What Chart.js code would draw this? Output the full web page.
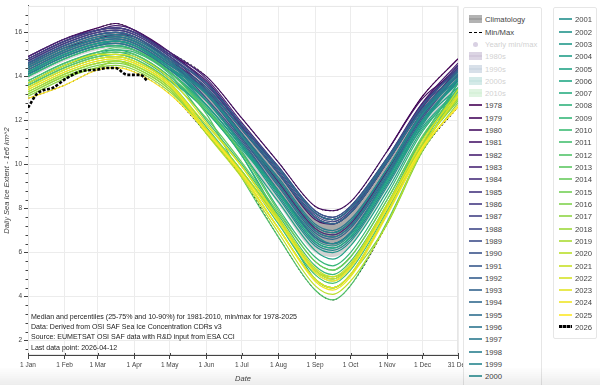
<!DOCTYPE html>
<html>
<head>
<meta charset="utf-8">
<script src="https://cdn.jsdelivr.net/npm/chart.js@4.4.1/dist/chart.umd.min.js"></script>
<style>
html,body{margin:0;padding:0;background:#fff;}
body{width:600px;height:385px;position:relative;overflow:hidden;font-family:Helvetica,"Liberation Sans",Arial,sans-serif;}
#c{position:absolute;left:0;top:0;}
.note{position:absolute;left:31px;top:312px;font-size:7.05px;line-height:10.2px;color:#222;white-space:nowrap;}
.lg{position:absolute;top:7px;border:1px solid #e6e6e6;background:#fff;border-radius:2px;box-sizing:border-box;}
.row{position:absolute;left:0;height:12px;display:flex;align-items:center;font-size:7.7px;color:#444;white-space:nowrap;}
.gl{display:inline-block;width:13px;height:8px;position:relative;margin-right:3px;}
.gl s{position:absolute;left:0;right:0;top:3px;height:2px;text-decoration:none;opacity:.8;}
.muted{opacity:0.25;}
.shade{position:absolute;left:0;right:0;bottom:0;height:18px;background:linear-gradient(rgba(0,0,0,0),rgba(0,0,0,0.07));pointer-events:none;}
</style>
</head>
<body>
<canvas id="c" width="600" height="385"></canvas>
<div class="note">
Median and percentiles (25-75% and 10-90%) for 1981-2010, min/max for 1978-2025<br>
Data: Derived from OSI SAF Sea Ice Concentration CDRs v3<br>
Source: EUMETSAT OSI SAF data with R&amp;D input from ESA CCI<br>
Last data point: 2026-04-12
</div>
<div class="lg" id="lg1" style="left:463px;width:79px;height:400px"></div>
<div class="lg" id="lg2" style="left:553px;width:44px;height:332px"></div>
<div class="shade"></div>
<script>
// day of year of every sample, and the axis ticks
const days = [0, 31, 59, 74, 90, 120, 151, 181, 212, 243, 258, 273, 304, 334, 364];
const tickDays = [0, 31, 59, 90, 120, 151, 181, 212, 243, 273, 304, 334, 364];
const tickLabels = ['1 Jan','1 Feb','1 Mar','1 Apr','1 May','1 Jun','1 Jul','1 Aug','1 Sep','1 Oct','1 Nov','1 Dec','31 Dec'];

// climatology 1981-2010
const clim10 = [13.9, 14.7, 15.2, 15.3, 15.1, 14.1, 12.5, 10.5, 8.2, 6.0, 5.8, 6.3, 8.9, 11.6, 13.6];
const clim25 = [14.1, 14.9, 15.4, 15.5, 15.3, 14.3, 12.8, 10.9, 8.7, 6.6, 6.3, 6.8, 9.3, 12.0, 13.8];
const clim50 = [14.4, 15.2, 15.7, 15.8, 15.6, 14.6, 13.2, 11.3, 9.2, 7.1, 6.8, 7.3, 9.7, 12.3, 14.1];
const clim75 = [14.6, 15.4, 15.9, 16.0, 15.8, 14.8, 13.5, 11.6, 9.6, 7.5, 7.3, 7.8, 10.1, 12.6, 14.3];
const clim90 = [14.8, 15.6, 16.1, 16.2, 16.0, 15.0, 13.7, 11.8, 9.8, 7.8, 7.5, 8.0, 10.3, 12.7, 14.5];

// daily extent per year (1e6 km^2)
const e1978 = [null,null,null,null,null,null,null,null,null,null,null,null,10.6,13.1,14.8];
const e1979 = [14.9,15.7,16.2,16.4,16.1,15.1,13.7,11.7,9.6,7.6,7.3,7.8,10.1,12.7,14.5];
const e1980 = [14.8,15.6,16.1,16.2,16.0,15.0,14.0,12.1,10.1,8.1,7.9,8.3,10.6,13.0,14.2];
const e1981 = [14.5,15.3,15.7,15.9,15.8,14.7,13.5,11.6,9.6,7.5,7.3,7.8,10.1,12.6,14.5];
const e1982 = [14.8,15.6,16.1,16.3,16.1,15.0,13.8,11.8,9.8,7.8,7.5,8.0,10.2,12.8,14.6];
const e1983 = [14.9,15.7,16.1,16.2,16.0,15.1,13.9,11.9,9.9,7.9,7.6,8.1,10.3,12.8,14.3];
const e1984 = [14.6,15.4,15.9,16.0,15.8,14.8,13.3,11.4,9.2,7.1,6.8,7.3,9.7,12.3,14.4];
const e1985 = [14.7,15.5,16.0,16.1,15.9,14.9,13.4,11.4,9.3,7.2,6.9,7.4,9.8,12.4,14.3];
const e1986 = [14.6,15.4,15.9,16.0,15.8,14.8,13.7,11.8,9.8,7.8,7.5,8.0,10.2,12.7,14.4];
const e1987 = [14.7,15.5,16.0,16.1,15.9,14.9,13.6,11.7,9.6,7.6,7.3,7.8,10.1,12.6,14.5];
const e1988 = [14.8,15.6,16.1,16.2,16.0,15.0,13.7,11.8,9.7,7.7,7.4,7.9,10.2,12.7,14.0];
const e1989 = [14.3,15.1,15.6,15.7,15.5,14.5,13.4,11.6,9.6,7.6,7.3,7.8,10.1,12.5,14.2];
const e1990 = [14.5,15.3,15.8,15.9,15.7,14.7,13.0,11.1,8.8,6.7,6.4,6.9,9.4,12.1,14.1];
const e1991 = [14.4,15.2,15.7,15.8,15.6,14.6,13.2,11.2,9.1,7.0,6.7,7.2,9.6,12.2,14.3];
const e1992 = [14.6,15.4,15.9,16.0,15.8,14.8,13.7,11.8,9.9,7.9,7.6,8.1,10.3,12.7,14.3];
const e1993 = [14.6,15.4,15.9,16.0,15.8,14.8,13.2,11.2,9.0,6.9,6.6,7.1,9.5,12.2,14.1];
const e1994 = [14.4,15.2,15.7,15.8,15.6,14.6,13.5,11.6,9.6,7.6,7.3,7.8,10.1,12.5,13.8];
const e1995 = [14.1,14.9,15.4,15.5,15.3,14.3,12.9,11.0,8.8,6.7,6.4,6.9,9.4,12.0,13.8];
const e1996 = [14.1,14.9,15.4,15.5,15.3,14.3,13.4,11.6,9.8,7.8,7.5,8.0,10.2,12.5,14.0];
const e1997 = [14.3,15.1,15.6,15.7,15.5,14.5,13.3,11.4,9.4,7.3,7.0,7.5,9.8,12.4,14.2];
const e1998 = [14.5,15.3,15.8,15.9,15.7,14.7,13.2,11.3,9.1,7.0,6.7,7.2,9.6,12.3,14.1];
const e1999 = [14.4,15.2,15.7,15.8,15.6,14.6,12.9,10.9,8.6,6.4,6.1,6.6,9.1,11.9,13.8];
const e2000 = [14.1,14.9,15.4,15.6,15.4,14.3,12.9,10.9,8.8,6.8,6.4,6.9,9.4,12.0,13.9];
const e2001 = [14.2,15.0,15.5,15.6,15.4,14.4,13.2,11.3,9.3,7.2,6.9,7.4,9.8,12.3,13.9];
const e2002 = [14.2,15.0,15.5,15.6,15.4,14.4,12.7,10.8,8.5,6.3,6.0,6.5,9.0,11.8,13.9];
const e2003 = [14.2,15.0,15.5,15.6,15.4,14.4,12.9,10.9,8.8,6.6,6.3,6.8,9.3,12.0,13.7];
const e2004 = [14.0,14.8,15.3,15.4,15.2,14.2,12.7,10.8,8.7,6.5,6.2,6.7,9.2,11.9,13.5];
const e2005 = [13.8,14.6,15.1,15.2,15.0,14.0,12.4,10.5,8.3,6.1,5.7,6.3,8.8,11.6,13.3];
const e2006 = [13.6,14.4,14.9,15.0,14.8,13.8,12.5,10.7,8.7,6.5,6.2,6.7,9.2,11.7,13.4];
const e2007 = [13.7,14.5,15.0,15.1,14.9,13.9,12.4,10.4,7.6,4.8,4.4,5.0,7.8,10.9,13.7];
const e2008 = [14.0,14.8,15.3,15.4,15.2,14.2,12.5,10.4,7.5,5.2,4.8,5.4,8.1,11.2,13.7];
const e2009 = [14.0,14.8,15.3,15.4,15.2,14.2,12.6,10.6,8.0,5.8,5.4,6.0,8.6,11.5,13.4];
const e2010 = [13.7,14.5,15.0,15.2,15.1,14.1,12.0,10.0,7.7,5.4,5.0,5.6,8.2,11.2,13.2];
const e2011 = [13.5,14.3,14.8,14.9,14.7,13.7,11.7,9.7,7.3,5.0,4.6,5.2,7.9,10.9,13.5];
const e2012 = [13.8,14.6,15.1,15.3,15.2,14.2,12.3,9.4,6.7,4.3,3.85,4.5,7.4,10.7,13.4];
const e2013 = [13.7,14.5,15.0,15.1,15.0,14.0,12.5,10.5,7.9,5.6,5.2,5.8,8.4,11.3,13.3];
const e2014 = [13.6,14.4,14.9,15.0,14.8,13.8,12.1,10.1,7.8,5.6,5.2,5.8,8.4,11.2,13.0];
const e2015 = [13.3,14.1,14.6,14.7,14.5,13.5,11.6,9.7,7.4,5.1,4.7,5.3,8.0,10.9,12.9];
const e2016 = [13.2,14.0,14.5,14.6,14.4,13.4,11.4,9.5,7.1,4.8,4.4,5.0,7.3,10.6,12.8];
const e2017 = [13.1,13.9,14.4,14.5,14.3,13.3,11.6,9.7,7.5,5.2,4.8,5.4,8.1,10.9,12.9];
const e2018 = [13.2,14.0,14.4,14.7,14.4,13.4,11.6,9.7,7.5,5.2,4.9,5.4,8.1,10.9,13.0];
const e2019 = [13.3,14.1,14.6,14.7,14.5,13.5,11.5,9.5,7.1,4.8,4.4,5.0,7.8,10.8,13.2];
const e2020 = [13.5,14.3,14.8,14.9,14.7,13.7,11.4,9.4,6.9,4.5,4.1,4.7,7.3,10.7,13.1];
const e2021 = [13.4,14.2,14.7,14.8,14.6,13.6,11.8,9.9,7.6,5.3,4.9,5.5,8.2,11.0,13.4];
const e2022 = [13.7,14.5,15.0,15.0,14.9,13.9,11.9,9.9,7.5,5.2,4.8,5.4,8.1,11.1,13.2];
const e2023 = [13.5,14.3,14.8,14.9,14.7,13.7,11.6,9.6,7.1,4.8,4.4,5.0,7.8,10.8,13.1];
const e2024 = [13.4,14.2,14.7,14.8,14.6,13.6,11.5,9.5,7.1,4.7,4.3,4.9,7.7,10.7,12.7];
const e2025 = [13.0,13.6,14.3,14.4,14.2,13.2,11.5,9.6,7.4,5.1,4.7,5.3,8.0,10.8,12.6];

// current year, up to the last data point
const days2026 = [0, 7, 12, 21, 33, 46, 58, 67, 74, 84, 95, 101];
const e2026 = [12.58, 13.17, 13.35, 13.48, 13.93, 14.25, 14.3, 14.38, 14.38, 14.07, 14.07, 13.8];

const yearSeries = [e1978,e1979,e1980,e1981,e1982,e1983,e1984,e1985,e1986,e1987,e1988,e1989,
  e1990,e1991,e1992,e1993,e1994,e1995,e1996,e1997,e1998,e1999,e2000,e2001,e2002,e2003,e2004,
  e2005,e2006,e2007,e2008,e2009,e2010,e2011,e2012,e2013,e2014,e2015,e2016,e2017,e2018,e2019,
  e2020,e2021,e2022,e2023,e2024,e2025];
const firstYear = 1978;

const viridis = ['#440154','#482475','#414487','#355f8d','#2a788e','#21918c','#22a884','#44bf70','#7ad151','#bddf26','#fde725'];
const hex = h => [1,3,5].map(i => parseInt(h.slice(i,i+2),16));
function vcol(t, a=1){
  const p = t*10, i = Math.min(9, Math.floor(p)), f = p - i;
  const c0 = hex(viridis[i]), c1 = hex(viridis[i+1]);
  const c = c0.map((v,k)=> Math.round(v + (c1[k]-v)*f));
  return `rgba(${c[0]},${c[1]},${c[2]},${a})`;
}
const pts = (xs, ys) => xs.map((d,i)=> ({x:d, y:ys[i]}));

const nYears = yearSeries.length;
const datasets = [];
// climatology bands sit under the yearly lines
datasets.push({ label:'p10', data: pts(days, clim10), borderWidth:0, borderColor:'rgba(0,0,0,0)', order: 6000 });
datasets.push({ label:'p90', data: pts(days, clim90), borderWidth:0, borderColor:'rgba(0,0,0,0)', fill:'-1', backgroundColor:'rgba(205,205,205,0.9)', order: 6000 });
datasets.push({ label:'p25', data: pts(days, clim25), borderWidth:0, borderColor:'rgba(0,0,0,0)', order: 5900 });
datasets.push({ label:'p75', data: pts(days, clim75), borderWidth:0, borderColor:'rgba(0,0,0,0)', fill:'-1', backgroundColor:'rgba(160,160,160,0.8)', order: 5900 });
datasets.push({ label:'Median', data: pts(days, clim50), borderColor:'rgba(120,120,120,0.9)', borderWidth:1.5, order: 5800 });
const minEnv = days.map((d,k)=> Math.min(...yearSeries.map(s=> s[k]).filter(v=> v!=null)));
const maxEnv = days.map((d,k)=> Math.max(...yearSeries.map(s=> s[k]).filter(v=> v!=null)));
datasets.push({ label:'Min', data: pts(days, minEnv), borderColor:'#000', borderWidth:1, borderDash:[2,2], order: 5000 });
datasets.push({ label:'Max', data: pts(days, maxEnv), borderColor:'#000', borderWidth:1, borderDash:[2,2], order: 5000 });
yearSeries.forEach((vals,i)=>{
  datasets.push({ label: String(firstYear+i), data: pts(days, vals), borderColor: vcol(i/(nYears-1)),
    borderWidth: 1.2, order: 3000 - i, spanGaps: false });
});
datasets.push({ label:'2026', data: pts(days2026, e2026), borderColor:'#000', borderWidth:2.6, borderDash:[3,1.6], order: 0 });

const extras = {
  id:'extras',
  beforeDatasetsDraw(c){
    const {ctx, chartArea:a} = c;
    ctx.save();
    ctx.strokeStyle = '#e6e6e6'; ctx.lineWidth = 1;
    ctx.strokeRect(a.left+0.5, a.top+0.5, a.right-a.left-1, a.bottom-a.top-1);
    ctx.restore();
  },
  afterDraw(c){
    const {ctx, chartArea:a, scales:{x, y}} = c;
    ctx.save();
    ctx.strokeStyle = '#444'; ctx.lineWidth = 1;
    ctx.beginPath();
    for(let v = 1.6; v < 17.2; v += 0.4){
      if(Math.abs(v/2 - Math.round(v/2)) < 0.01) continue;
      const py = Math.round(y.getPixelForValue(v)) + 0.5;
      ctx.moveTo(a.left - 2.5, py); ctx.lineTo(a.left, py);
    }
    tickDays.forEach(d=>{
      const px = Math.round(x.getPixelForValue(d)) + 0.5;
      ctx.moveTo(px, a.bottom); ctx.lineTo(px, a.bottom - 2);
    });
    ctx.stroke();
    ctx.restore();
  }
};

Chart.defaults.font.family = 'Helvetica, "Liberation Sans", Arial, sans-serif';
new Chart(document.getElementById('c'), {
  type: 'line',
  data: { datasets },
  options: {
    responsive: false, animation: false,
    layout: { padding: { left: 0, right: 142, top: 2, bottom: 0 } },
    plugins: { legend: { display: false }, tooltip: { enabled: false } },
    elements: { point: { radius: 0 }, line: { cubicInterpolationMode: 'monotone', fill: false } },
    scales: {
      x: {
        type: 'linear', min: 0, max: 364,
        afterBuildTicks: s => { s.ticks = tickDays.map(v => ({ value: v })); },
        afterFit: s => { s.height = 30; },
        ticks: { callback: v => tickLabels[tickDays.indexOf(v)], font: { size: 6.5 }, color: '#444', maxRotation: 0, autoSkip: false, padding: 2 },
        grid: { color: '#ececec', tickColor: '#444', tickLength: 4 },
        border: { color: '#444' },
        title: { display: true, text: 'Date', font: { size: 7.5, style: 'italic' }, color: '#444', padding: { top: 0, bottom: 2 } }
      },
      y: {
        min: 1.35, max: 17.2,
        afterFit: s => { s.width = 28; },
        ticks: { stepSize: 2, includeBounds: false, font: { size: 6.5 }, color: '#444', padding: 2 },
        grid: { color: '#ececec', tickColor: '#444', tickLength: 4 },
        border: { color: '#444' },
        title: { display: true, text: 'Daily Sea Ice Extent - 1e6 km^2', font: { size: 7.5, style: 'italic' }, color: '#444', padding: { top: 2, bottom: 0 } }
      }
    }
  },
  plugins: [extras]
});

// legend, two boxed columns
function glyph(kind, color){
  const g = document.createElement('span'); g.className = 'gl';
  if(kind === 'band'){
    g.innerHTML = `<b style="position:absolute;left:0;right:0;top:0;height:8px;background:${color};opacity:.75"></b><s style="background:${color}"></s>`;
  } else if(kind === 'dash'){
    g.innerHTML = `<s style="height:0;border-top:1px dashed ${color};opacity:1;top:4px"></s>`;
  } else if(kind === 'dot'){
    g.innerHTML = `<b style="position:absolute;left:4px;top:1.5px;width:5px;height:5px;border-radius:50%;background:${color}"></b>`;
  } else if(kind === 'now'){
    g.innerHTML = `<s style="height:3px;top:2px;opacity:1;background:repeating-linear-gradient(90deg,#000 0 3px,#999 3px 4px)"></s>`;
  } else {
    g.innerHTML = `<s style="background:${color}"></s>`;
  }
  return g;
}
function addRow(box, i, kind, color, text, muted){
  const r = document.createElement('div'); r.className = 'row' + (muted ? ' muted' : '');
  r.style.top = Math.round(12.3 + 12.31*i - 7) + 'px';
  r.style.left = '5px';
  r.appendChild(glyph(kind, color));
  r.appendChild(document.createTextNode(text));
  box.appendChild(r);
}
const lg1 = document.getElementById('lg1'), lg2 = document.getElementById('lg2');
addRow(lg1, 0, 'band', '#9a9a9a', 'Climatology');
addRow(lg1, 1, 'dash', '#000', 'Min/Max');
addRow(lg1, 2, 'dot', '#6a4c93', 'Yearly min/max', true);
addRow(lg1, 3, 'band', vcol(0.08), '1980s', true);
addRow(lg1, 4, 'band', vcol(0.3), '1990s', true);
addRow(lg1, 5, 'band', vcol(0.52), '2000s', true);
addRow(lg1, 6, 'band', vcol(0.74), '2010s', true);
yearSeries.forEach((s,i)=>{
  const col = vcol(i/(nYears-1));
  if(i <= 22) addRow(lg1, 7 + i, 'line', col, String(firstYear+i));
  else addRow(lg2, i - 23, 'line', col, String(firstYear+i));
});
addRow(lg2, 25, 'now', '#000', '2026');
</script>
</body>
</html>
